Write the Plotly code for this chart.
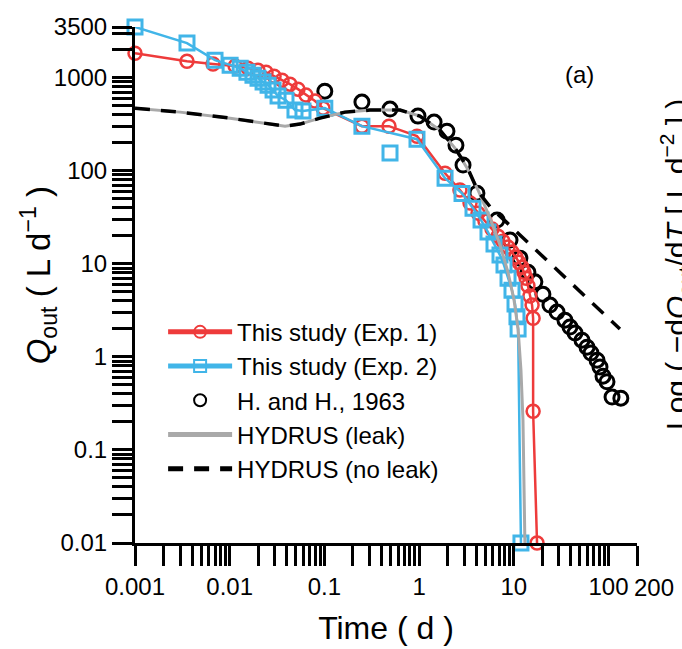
import math
import plotly.graph_objects as go

# ---------------- data ----------------
t_exp1 = [0.001, 0.00354, 0.00667, 0.0114, 0.0156, 0.0199, 0.0242, 0.0294, 0.0357, 0.0433,
          0.0526, 0.0639, 0.0796, 0.0967, 0.249, 0.481, 0.95, 1.88, 2.70, 3.45, 4.19, 4.96,
          5.89, 6.81, 7.69, 8.69, 9.57, 10.5, 11.3, 12.2, 12.8, 13.5, 14.1, 14.8, 15.6, 16.0,
          16.0, 17.6]
q_exp1 = [1830, 1500, 1400, 1330, 1265, 1204, 1146, 1038, 940, 851,
          752, 649, 560, 470, 301, 301, 235, 94, 62, 45, 35, 28.8,
          23.6, 19.8, 17.5, 15.1, 13.4, 11.8, 10.4, 9.2, 8.1, 7.0, 5.8, 4.5, 3.6, 2.6,
          0.26, 0.01]

t_exp2 = [0.001, 0.00354, 0.007, 0.0101, 0.0129, 0.0152, 0.0176, 0.0199, 0.0225, 0.0254,
          0.0287, 0.0324, 0.0393, 0.0489, 0.0594, 0.101, 0.249, 0.95, 1.88, 2.84, 3.71,
          4.51, 5.34, 6.18, 7.15, 7.88, 8.69, 9.57, 10.3, 10.8, 11.1, 11.9]
q_exp2 = [3500, 2350, 1540, 1362, 1265, 1146, 1064, 988, 895, 830,
          735, 633, 573, 448, 439, 470, 301, 218, 83, 57, 39.6,
          29.5, 21.9, 16.3, 12.4, 9.7, 7.0, 5.2, 3.7, 2.7, 1.99, 0.01]
t_exp2_extra = [0.493]
q_exp2_extra = [155]

t_hh = [0.101, 0.249, 0.493, 0.973, 1.44, 1.97, 2.45, 2.91, 4.08, 6.65, 9.12, 11.6, 14.1,
        16.7, 20.3, 24.1, 28.6, 34.7, 39.2, 44.3, 52.5, 59.3, 65.3, 75.7, 81.3, 87.5,
        96.4, 109, 135]
q_hh = [716, 546, 459, 386, 333, 266, 188, 115, 57.4, 29.5, 18.0, 11.5, 8.1,
        6.4, 4.7, 3.6, 3.03, 2.48, 2.09, 1.80, 1.51, 1.27, 1.10, 0.92, 0.78, 0.62,
        0.54, 0.37, 0.36]

t_leak = [0.001, 0.00299, 0.0101, 0.0267, 0.0384, 0.0552, 0.0899, 0.165, 0.303, 0.629,
          1.02, 1.66, 2.39, 3.21, 4.19, 5.61, 7.15, 8.69, 10.05, 11.1, 11.9, 12.5, 12.8, 13.1]
q_leak = [470, 426, 367, 317, 301, 317, 367, 426, 448, 448,
          386, 273, 175, 107, 62, 31, 15.9, 8.1, 4.1, 1.99, 0.72, 0.21, 0.048, 0.01]

t_noleak = [0.001, 0.00299, 0.0101, 0.0267, 0.0384, 0.0552, 0.0899, 0.165, 0.303, 0.629,
            1.02, 1.66, 2.39, 3.21, 4.19, 5.61, 14.1, 132]
q_noleak = [470, 426, 367, 317, 301, 317, 367, 426, 448, 448,
            386, 273, 175, 110, 60, 41, 17.1, 1.99]

x_tickvals = [0.001, 0.01, 0.1, 1, 10, 100, 200]
x_ticktext = ["0.001", "0.01", "0.1", "1", "10", "100", ""]   # "200" drawn as annotation (offset right)
x_last_label = "200"
y_tickvals = [0.01, 0.1, 1, 10, 100, 1000, 3500]
y_ticktext = ["0.01", "0.1", "1", "10", "100", "1000", "3500"]

x_minor = [m * 10.0 ** e for e in range(-3, 2) for m in range(2, 10)]
y_minor = [m * 10.0 ** e for e in range(-2, 3) for m in range(2, 10)] + [2000, 3000]

RED = "#EE3B3B"
BLUE = "#41B5E8"
GRAY = "#A9A9A9"
FONT = "Liberation Sans, Arial, sans-serif"

fig = go.Figure()

fig.add_trace(go.Scatter(
    x=t_hh, y=q_hh, mode="markers", name="H. and H., 1963", legendrank=3,
    marker=dict(symbol="circle-open", size=14, color="black", line=dict(width=3)),
    cliponaxis=False))
fig.add_trace(go.Scatter(
    x=t_exp1, y=q_exp1, mode="lines+markers", name="This study (Exp. 1)", legendrank=1,
    line=dict(color=RED, width=2.5),
    marker=dict(symbol="circle-open", size=13, color=RED, line=dict(width=2.5)),
    cliponaxis=False))
fig.add_trace(go.Scatter(
    x=t_exp2, y=q_exp2, mode="lines+markers", name="This study (Exp. 2)", legendrank=2,
    line=dict(color=BLUE, width=2.5),
    marker=dict(symbol="square-open", size=14, color=BLUE, line=dict(width=3)),
    cliponaxis=False))
fig.add_trace(go.Scatter(
    x=t_exp2_extra, y=q_exp2_extra, mode="markers", showlegend=False,
    marker=dict(symbol="square-open", size=14, color=BLUE, line=dict(width=3)),
    cliponaxis=False))
fig.add_trace(go.Scatter(
    x=t_leak, y=q_leak, mode="lines", name="HYDRUS (leak)", legendrank=4,
    line=dict(color=GRAY, width=3), cliponaxis=False))
fig.add_trace(go.Scatter(
    x=t_noleak, y=q_noleak, mode="lines", name="HYDRUS (no leak)", legendrank=5,
    line=dict(color="black", width=3.5, dash="15px,11px"), cliponaxis=False))

axis_common = dict(
    type="log", showgrid=False, zeroline=False, showline=True, linecolor="black",
    linewidth=3, ticks="outside", ticklen=20, tickwidth=3, tickcolor="black",
    tickmode="array", tickangle=0, automargin=False,
    tickfont=dict(size=24, color="black", family=FONT),
)

fig.update_xaxes(
    **axis_common, range=[-3, math.log10(200)], tickvals=x_tickvals, ticktext=x_ticktext,
    minor=dict(tickvals=x_minor, ticks="outside", ticklen=20, tickwidth=3, tickcolor="black"),
    title=dict(text="Time ( d )", font=dict(size=32, color="black", family=FONT), standoff=18),
)
fig.update_yaxes(
    **axis_common, range=[-2, math.log10(3500) + 1e-6], tickvals=y_tickvals, ticktext=y_ticktext,
    minor=dict(tickvals=y_minor, ticks="outside", ticklen=20, tickwidth=3, tickcolor="black"),
)

fig.add_annotation(text=x_last_label, x=1.034, y=-0.0855, xref="paper", yref="paper",
                   xanchor="center", yanchor="middle", showarrow=False,
                   font=dict(size=24, color="black", family=FONT))
# y-axis title placed as a rotated annotation for precise positioning
fig.add_annotation(text="<i>Q</i><sub>out</sub> ( L d<sup>−1</sup> )",
                   x=-0.193, y=0.519, xref="paper", yref="paper", textangle=-90,
                   xanchor="center", yanchor="middle", showarrow=False,
                   font=dict(size=33, color="black", family=FONT))
fig.add_annotation(text="(a)", x=0.886, y=0.907, xref="paper", yref="paper",
                   xanchor="center", yanchor="middle",
                   showarrow=False, font=dict(size=24, color="black", family=FONT))
fig.add_annotation(text="Log ( −d<i>Q</i><sub>out</sub>/d<i>T</i> [ L d<sup>−2</sup> ] )",
                   x=1.078, y=0.539, xref="paper", yref="paper", textangle=-90,
                   xanchor="center", yanchor="middle",
                   showarrow=False, font=dict(size=30, color="black", family=FONT))

fig.update_layout(
    width=682, height=649,
    margin=dict(l=135, r=45, t=27, b=106),
    paper_bgcolor="white", plot_bgcolor="white",
    font=dict(family=FONT, color="black"),
    legend=dict(x=0.056, y=0.452, xanchor="left", yanchor="top",
                font=dict(size=24, color="black", family=FONT),
                bgcolor="rgba(0,0,0,0)", tracegroupgap=0, itemwidth=64,
                itemsizing="constant"),
)

fig.write_html("out.html")
